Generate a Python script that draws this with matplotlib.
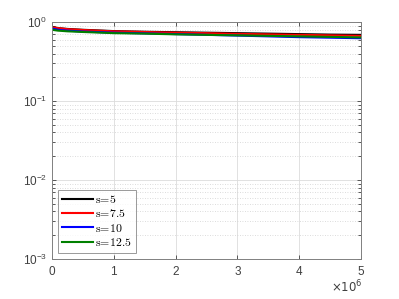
import numpy as np
import matplotlib
matplotlib.use("Agg")
import matplotlib.pyplot as plt
from matplotlib.ticker import LogLocator, NullFormatter

plt.rcParams['font.family'] = ['Liberation Sans', 'DejaVu Sans']
plt.rcParams['mathtext.fontset'] = 'cm'

# iterations
x = [0, 0.1e6, 0.25e6, 0.5e6, 1e6, 1.5e6, 2e6, 2.5e6, 3e6, 3.5e6, 4e6, 4.5e6, 5e6]

s5 = [0.87, 0.84, 0.82, 0.80, 0.77, 0.755, 0.745, 0.735, 0.725, 0.715, 0.705, 0.695, 0.69]
s7_5 = [0.86, 0.84, 0.815, 0.795, 0.765, 0.75, 0.735, 0.725, 0.71, 0.70, 0.69, 0.68, 0.67]
s10 = [0.83, 0.80, 0.78, 0.76, 0.735, 0.72, 0.705, 0.69, 0.675, 0.66, 0.645, 0.635, 0.625]
s12_5 = [0.80, 0.78, 0.765, 0.75, 0.725, 0.715, 0.70, 0.69, 0.68, 0.67, 0.66, 0.65, 0.64]

series = [
    (s5, 'k', r'$\mathrm{s\!=\!5}$'),
    (s7_5, 'r', r'$\mathrm{s\!=\!7.5}$'),
    (s10, 'b', r'$\mathrm{s\!=\!10}$'),
    (s12_5, '#008000', r'$\mathrm{s\!=\!12.5}$'),
]

fig = plt.figure(figsize=(3.99, 2.99), dpi=100)
ax = fig.add_axes([0.130, 0.134, 0.775, 0.792])

for y, c, lab in series:
    ax.plot(x, y, color=c, lw=1.5, label=lab)

ax.set_yscale('log')
ax.set_xlim(0, 5e6)
ax.set_ylim(1e-3, 1)
ax.set_xticks([0, 1e6, 2e6, 3e6, 4e6, 5e6])
ax.set_xticklabels(['0', '1', '2', '3', '4', '5'])
ax.yaxis.set_major_locator(LogLocator(base=10, numticks=10))
ax.yaxis.set_minor_locator(LogLocator(base=10, subs=np.arange(2, 10), numticks=10))
ax.yaxis.set_minor_formatter(NullFormatter())

ax.grid(True, which='major', color='#dcdcdc', lw=0.6, ls='-')
ax.grid(True, which='minor', axis='y', color='#d0d0d0', lw=0.6, ls=(0, (1, 2)))
ax.set_axisbelow(True)

for sp in ax.spines.values():
    sp.set_color('#808080')
    sp.set_linewidth(0.7)
ax.tick_params(which='both', direction='in', top=True, right=True,
               colors='#404040', labelsize=8.5, length=3, width=0.6)
ax.tick_params(which='minor', length=2)
ax.tick_params(axis='x', pad=5)

fig.text(0.91, 0.012, r'$\times10^6$', ha='right', va='bottom', fontsize=8.5,
         color='#404040', family='Liberation Sans', math_fontfamily='dejavusans')

leg = ax.legend(loc='lower left', fontsize=8.5, frameon=True, fancybox=False,
                handlelength=2.6, handletextpad=0.2, borderpad=0.35,
                labelspacing=0.2, borderaxespad=0.5)
leg.get_frame().set_edgecolor('#808080')
leg.get_frame().set_linewidth(0.7)

fig.savefig('out.png', dpi=100)
